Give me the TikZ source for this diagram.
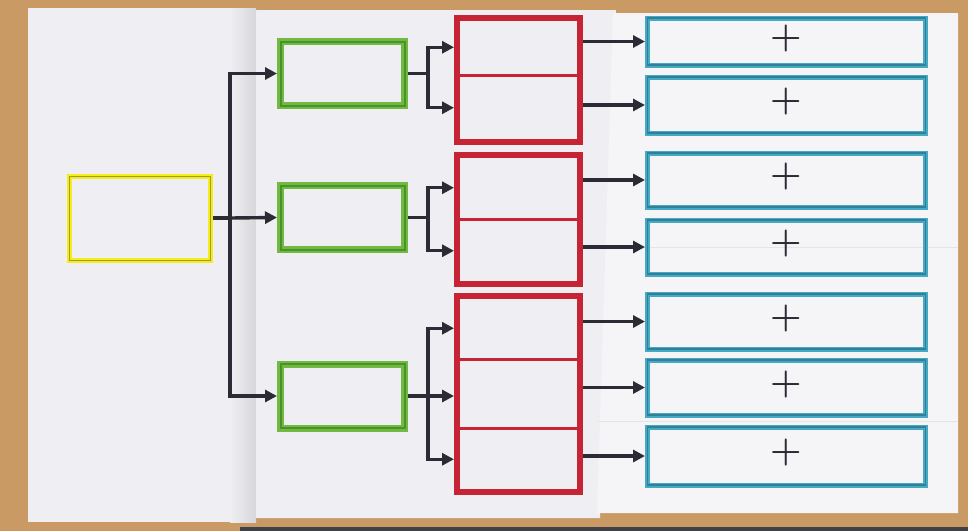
\documentclass[tikz,border=0pt]{standalone}
\usetikzlibrary{arrows.meta,fit}
\definecolor{wood}{HTML}{C99A63}
\definecolor{paperA}{HTML}{EFEEF2}
\definecolor{paperB}{HTML}{F5F5F7}
\definecolor{ylw}{HTML}{F5EC20}
\definecolor{ylwdark}{HTML}{A39C22}
\definecolor{grn}{HTML}{72B842}
\definecolor{grndark}{HTML}{47942A}
\definecolor{redm}{HTML}{C62435}
\definecolor{blu}{HTML}{47A8C3}
\definecolor{bludark}{HTML}{2F8099}
\definecolor{ink}{HTML}{2B2B35}
\begin{document}
\begin{tikzpicture}[x=1pt,y=-1pt,
  ybox/.style={draw=ylw, line width=5pt, inner sep=0pt, minimum width=141pt, minimum height=84pt,
    postaction={draw=ylwdark, line width=0.8pt}},
  gbox/.style={draw=grn, line width=7pt, inner sep=0pt, minimum width=124pt, minimum height=64pt,
    postaction={draw=grndark, line width=2pt}},
  rcell/.style={draw=redm, line width=3pt, inner sep=0pt, minimum width=120pt},
  rgroup/.style={draw=redm, line width=6pt, inner sep=0pt},
  bbox/.style={draw=blu, line width=5pt, inner sep=0pt, minimum width=278pt, text=ink, text depth=11pt,
    font=\fontsize{36}{36}\bfseries, postaction={draw=bludark, line width=1.2pt}},
  link/.style={draw=ink, line width=3.4pt},
  arr/.style={link, -{Triangle[length=12pt,width=12pt]}}
]
% background and sheets
\fill[wood] (0,0) rectangle (968,531);
\useasboundingbox (0,0) rectangle (968,531);
\fill[ink!90] (240,527) rectangle (968,531);
\fill[paperA] (28,8) rectangle (256,522);
\shade[left color=paperA, right color=paperA!90!black] (230,8) rectangle (256,522);
\fill[paperA] (256,10) -- (616,10) -- (600,518) -- (256,518) -- cycle;
\fill[paperB] (613,13) -- (958,13) -- (958,513) -- (597,513) -- cycle;
\draw[black!10, line width=0.6pt] (600,247) -- (958,247);
\draw[black!10, line width=0.6pt] (598,421) -- (958,421);

% yellow
\node[ybox] (Y) at (139.5,218) {};
% green
\node[gbox] (G1) at (342.5,73.5) {};
\node[gbox] (G2) at (342.5,217.5) {};
\node[gbox] (G3) at (342.5,396) {};
% red groups
\node[rcell, minimum height=55.5pt] (R1a) at (518.5,47.25) {};
\node[rcell, minimum height=65.5pt] (R1b) at (518.5,107.75) {};
\node[rgroup, fit=(R1a)(R1b)] (F1) {};
\node[rcell, minimum height=62.5pt] (R2a) at (518.5,187.75) {};
\node[rcell, minimum height=63.5pt] (R2b) at (518.5,250.75) {};
\node[rgroup, fit=(R2a)(R2b)] (F2) {};
\node[rcell, minimum height=61.5pt] (R3a) at (518.5,328.25) {};
\node[rcell, minimum height=69pt] (R3b) at (518.5,393.5) {};
\node[rcell, minimum height=62.5pt] (R3c) at (518.5,459.25) {};
\node[rgroup, fit=(R3a)(R3c)] (F3) {};
% blue
\node[bbox, minimum height=47pt] (B1) at (786.5,41.5) {+};
\node[bbox, minimum height=56pt] (B2) at (786.5,105) {+};
\node[bbox, minimum height=54pt] (B3) at (786.5,180) {+};
\node[bbox, minimum height=54pt] (B4) at (786.5,247) {+};
\node[bbox, minimum height=55pt] (B5) at (786.5,321.5) {+};
\node[bbox, minimum height=55pt] (B6) at (786.5,387.5) {+};
\node[bbox, minimum height=58pt] (B7) at (786.5,456) {+};

% junctions
\coordinate (J0) at (230,218);
\coordinate (S1) at (428,73.5);
\coordinate (S2) at (428,217.5);
\coordinate (S3) at (428,396);

% connectors
\draw[link] (Y.east) -- (J0);
\draw[link] (J0) -- (230,396);
\draw[arr] (J0) |- (G1.west);
\draw[arr] (J0) -- (G2.west);
\draw[arr] (J0) |- (G3.west);

\draw[link] (G1.east) -- (S1);
\draw[arr] (S1) |- (R1a.west -| F1.west);
\draw[arr] (S1) |- (R1b.west -| F1.west);
\draw[link] (G2.east) -- (S2);
\draw[arr] (S2) |- (R2a.west -| F2.west);
\draw[arr] (S2) |- (R2b.west -| F2.west);
\draw[link] (G3.east) -- (S3);
\draw[arr] (S3) |- (R3a.west -| F3.west);
\draw[arr] (S3) -- (S3 -| F3.west);
\draw[arr] (S3) |- (R3c.west -| F3.west);

\draw[arr] (F1.east |- B1.west) -- (B1.west);
\draw[arr] (F1.east |- B2.west) -- (B2.west);
\draw[arr] (F2.east |- B3.west) -- (B3.west);
\draw[arr] (F2.east |- B4.west) -- (B4.west);
\draw[arr] (F3.east |- B5.west) -- (B5.west);
\draw[arr] (F3.east |- B6.west) -- (B6.west);
\draw[arr] (F3.east |- B7.west) -- (B7.west);
\end{tikzpicture}
\end{document}
